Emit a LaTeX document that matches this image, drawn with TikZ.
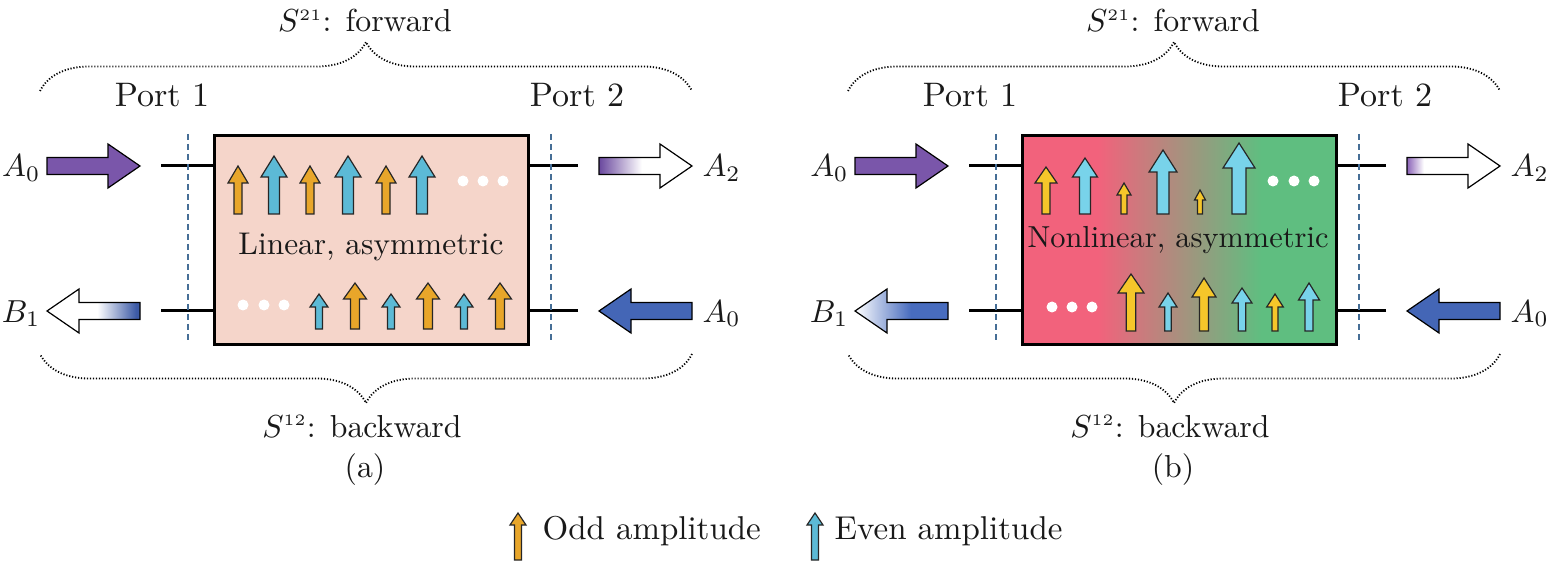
\documentclass[tikz,border=0pt]{standalone}
\usetikzlibrary{decorations.pathreplacing}
\definecolor{peach}{RGB}{245,213,202}
\definecolor{ampOrA}{RGB}{232,166,42}
\definecolor{ampBlA}{RGB}{92,186,214}
\definecolor{ampOrB}{RGB}{245,198,42}
\definecolor{ampBlB}{RGB}{120,211,234}
\definecolor{inPurple}{RGB}{122,86,170}
\definecolor{inBlue}{RGB}{68,102,182}
\definecolor{outPurple}{RGB}{106,72,158}
\definecolor{outPurpleL}{RGB}{140,100,184}
\definecolor{outBlue}{RGB}{60,90,166}
\definecolor{outBlueB}{RGB}{72,108,190}
\definecolor{nlRed}{RGB}{242,98,124}
\definecolor{nlGreen}{RGB}{95,190,128}
\definecolor{portDash}{RGB}{70,110,150}
\definecolor{txt}{RGB}{25,25,25}
\pgfdeclarehorizontalshading{nlshade}{100bp}{color(0bp)=(nlRed); color(37bp)=(nlRed); color(63bp)=(nlGreen); color(100bp)=(nlGreen)}
\pgfdeclarehorizontalshading{atwoa}{100bp}{color(0bp)=(outPurple); color(25bp)=(outPurple); color(48bp)=(white); color(100bp)=(white)}
\pgfdeclarehorizontalshading{bonea}{100bp}{color(0bp)=(white); color(52bp)=(white); color(73bp)=(outBlue); color(100bp)=(outBlue)}
\pgfdeclarehorizontalshading{atwob}{100bp}{color(0bp)=(outPurpleL); color(25bp)=(outPurpleL); color(34bp)=(white); color(100bp)=(white)}
\pgfdeclarehorizontalshading{boneb}{100bp}{color(0bp)=(white); color(25bp)=(white); color(55bp)=(outBlueB); color(100bp)=(outBlueB)}
\newcommand{\rarr}[3]{\path[#1] (#2,#3-8.5) -- (#2+61,#3-8.5) -- (#2+61,#3-22) -- (#2+93,#3) -- (#2+61,#3+22) -- (#2+61,#3+8.5) -- (#2,#3+8.5) -- cycle;}
\newcommand{\larr}[3]{\path[#1] (#2,#3) -- (#2+32,#3-22) -- (#2+32,#3-8.5) -- (#2+93,#3-8.5) -- (#2+93,#3+8.5) -- (#2+32,#3+8.5) -- (#2+32,#3+22) -- cycle;}
\newcommand{\amparr}[7]{\path[#1] (#2-#5,#3) -- (#2-#5,#4+#7) -- (#2-#6,#4+#7) -- (#2,#4) -- (#2+#6,#4+#7) -- (#2+#5,#4+#7) -- (#2+#5,#3) -- cycle;}
\tikzset{
 lbl/.style={font=\fontsize{10}{12}\selectfont, inner sep=0pt, text=txt, scale=#1, transform shape},
 lbl/.default=1.59,
 boxframe/.style={draw=black, line width=1.5pt, inner sep=0pt, minimum width=157pt, minimum height=104.5pt, anchor=north west},
 wire/.style={line width=1.5pt},
 portline/.style={draw=portDash, line width=0.6pt, dash pattern=on 3pt off 2pt},
 bracestyle/.style={line width=0.9pt, dash pattern=on 0.6pt off 0.9pt, decorate, decoration={brace, amplitude=24.5pt}},
 bigarr/.style={draw=black, line width=0.6pt},
 ampO/.style={draw=black!85, line width=0.6pt, fill=#1},
 wdot/.style={fill=white},
}
\begin{document}
\begin{tikzpicture}[x=0.5pt,y=-0.5pt]
\useasboundingbox (0,0) rectangle (1550,566);
% ---------------- panel (a) ----------------
\node[boxframe, fill=peach] (boxa) at (213,134) {};
\coordinate (wa1) at (161,166); \coordinate (wa2) at (578,166);
\coordinate (wa3) at (161,311); \coordinate (wa4) at (578,311);
\draw[wire] (wa1) -- (wa1 -| boxa.west);
\draw[wire] (wa2) -- (wa2 -| boxa.east);
\draw[wire] (wa3) -- (wa3 -| boxa.west);
\draw[wire] (wa4) -- (wa4 -| boxa.east);
\draw[portline] (188,134) -- (188,343);
\draw[portline] (551,134) -- (551,343);
\rarr{bigarr, fill=inPurple}{47}{166}
\rarr{bigarr, shading=atwoa}{599}{166}
\larr{bigarr, shading=bonea}{47}{311}
\larr{bigarr, fill=inBlue}{599}{311}
\node[lbl, anchor=base east] (a0a) at (41,177) {$A_0$};
\node[lbl, anchor=base west] (a2a) at (702,177) {$A_2$};
\node[lbl, anchor=base east] (b1a) at (41,322) {$B_1$};
\node[lbl, anchor=base west] (a0ra) at (702,322) {$A_0$};
\amparr{ampO=ampOrA}{238}{214}{166}{4}{10}{17}
\amparr{ampO=ampBlA}{274}{214}{156}{5.5}{13}{21}
\amparr{ampO=ampOrA}{310}{214}{166}{4}{10}{17}
\amparr{ampO=ampBlA}{348}{214}{156}{5.5}{13}{21}
\amparr{ampO=ampOrA}{386}{214}{166}{4}{10}{17}
\amparr{ampO=ampBlA}{422}{214}{156}{5.5}{13}{21}
\fill[wdot] (463,181) circle[radius=5.5] (483,181) circle[radius=5.5] (503,181) circle[radius=5.5];
\amparr{ampO=ampBlA}{319}{329}{294}{3.5}{9}{13}
\amparr{ampO=ampOrA}{355}{329}{283}{4.5}{11.5}{16}
\amparr{ampO=ampBlA}{391}{329}{294}{3.5}{9}{13}
\amparr{ampO=ampOrA}{428}{329}{283}{4.5}{11.5}{16}
\amparr{ampO=ampBlA}{464}{329}{294}{3.5}{9}{13}
\amparr{ampO=ampOrA}{500}{329}{283}{4.5}{11.5}{16}
\fill[wdot] (243,305) circle[radius=5.5] (264,305) circle[radius=5.5] (284,305) circle[radius=5.5];
\node[lbl=1.57, anchor=base] (lina) at (371,255) {Linear, asymmetric};
\node[lbl=1.7, anchor=base] (p1a) at (162,107) {Port 1};
\node[lbl=1.7, anchor=base] (p2a) at (577,107) {Port 2};
\draw[bracestyle] (40,91) -- (692,91);
\draw[bracestyle] (692,354) -- (40,354);
\node[lbl, anchor=base] (fwa) at (365,32) {$S^{\scriptscriptstyle 21}$: forward};
\node[lbl, anchor=base] (bwa) at (362,437) {$S^{\scriptscriptstyle 12}$: backward};
\node[lbl, anchor=base] (capa) at (365,477) {(a)};
% ---------------- panel (b) ----------------
\node[boxframe, shade, shading=nlshade] (boxb) at (1021,134) {};
\coordinate (wb1) at (969,166); \coordinate (wb2) at (1386,166);
\coordinate (wb3) at (969,311); \coordinate (wb4) at (1386,311);
\draw[wire] (wb1) -- (wb1 -| boxb.west);
\draw[wire] (wb2) -- (wb2 -| boxb.east);
\draw[wire] (wb3) -- (wb3 -| boxb.west);
\draw[wire] (wb4) -- (wb4 -| boxb.east);
\draw[portline] (996,134) -- (996,343);
\draw[portline] (1359,134) -- (1359,343);
\rarr{bigarr, fill=inPurple}{855}{166}
\rarr{bigarr, shading=atwob}{1407}{166}
\larr{bigarr, shading=boneb}{855}{311}
\larr{bigarr, fill=inBlue}{1407}{311}
\node[lbl, anchor=base east] (a0b) at (849,177) {$A_0$};
\node[lbl, anchor=base west] (a2b) at (1510,177) {$A_2$};
\node[lbl, anchor=base east] (b1b) at (849,322) {$B_1$};
\node[lbl, anchor=base west] (a0rb) at (1510,322) {$A_0$};
\amparr{ampO=ampOrB}{1046}{214}{167}{4}{11}{16}
\amparr{ampO=ampBlB}{1085}{214}{158}{5.5}{12.5}{19}
\amparr{ampO=ampOrB}{1124}{214}{183}{3}{7}{12}
\amparr{ampO=ampBlB}{1163}{214}{150}{6}{14}{22}
\amparr{ampO=ampOrB}{1200}{214}{190}{2.5}{5.5}{10}
\amparr{ampO=ampBlB}{1239}{214}{143}{7}{16}{25}
\fill[wdot] (1273,181) circle[radius=5.5] (1294,181) circle[radius=5.5] (1314,181) circle[radius=5.5];
\amparr{ampO=ampOrB}{1131}{331}{274}{4.7}{13}{19}
\amparr{ampO=ampBlB}{1168}{331}{293}{3.3}{9}{14}
\amparr{ampO=ampOrB}{1204}{331}{278}{4.5}{12}{19}
\amparr{ampO=ampBlB}{1242}{331}{288}{3.7}{10}{15}
\amparr{ampO=ampOrB}{1275}{331}{294}{3}{8.3}{13}
\amparr{ampO=ampBlB}{1309}{331}{283}{4}{10.5}{17}
\fill[wdot] (1052,307) circle[radius=5.5] (1072,307) circle[radius=5.5] (1092,307) circle[radius=5.5];
\node[lbl=1.52, anchor=base] (linb) at (1178,248) {Nonlinear, asymmetric};
\node[lbl=1.7, anchor=base] (p1b) at (970,107) {Port 1};
\node[lbl=1.7, anchor=base] (p2b) at (1385,107) {Port 2};
\draw[bracestyle] (848,91) -- (1500,91);
\draw[bracestyle] (1500,354) -- (848,354);
\node[lbl, anchor=base] (fwb) at (1173,32) {$S^{\scriptscriptstyle 21}$: forward};
\node[lbl, anchor=base] (bwb) at (1170,437) {$S^{\scriptscriptstyle 12}$: backward};
\node[lbl, anchor=base] (capb) at (1173,477) {(b)};
% ---------------- legend ----------------
\amparr{ampO=ampOrA}{518}{560}{513}{3.5}{8}{12}
\node[lbl=1.65, anchor=base west] (lgo) at (542,539) {Odd amplitude};
\amparr{ampO=ampBlA}{815}{560}{513}{3.5}{8}{12}
\node[lbl=1.65, anchor=base west] (lge) at (834,539) {Even amplitude};
\end{tikzpicture}
\end{document}
